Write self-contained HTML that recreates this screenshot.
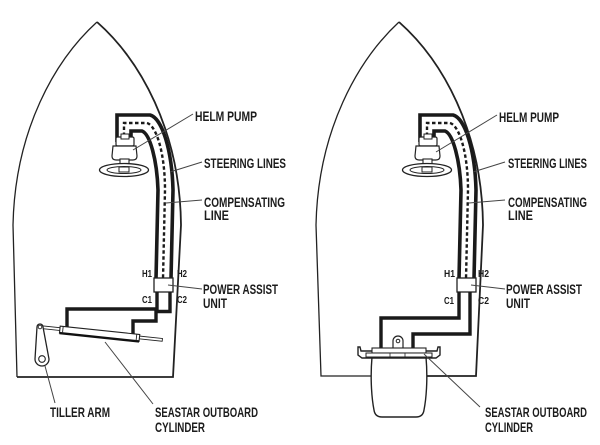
<!DOCTYPE html>
<html><head><meta charset="utf-8"><style>
html,body{margin:0;padding:0;background:#fff;}
svg{display:block;}
text{font-family:"Liberation Sans",Arial,sans-serif;font-weight:bold;fill:#1c1c1c;}
</style></head><body>
<svg width="600" height="445" viewBox="0 0 600 445" xmlns="http://www.w3.org/2000/svg">
<rect width="600" height="445" fill="#fff"/>

<!-- LEFT HULL -->
<path d="M17,377 L13,225 C15,130 55,60 97,22" fill="none" stroke="#222" stroke-width="1.3"/>
<path d="M97,22 C140,60 180,130 181,225 L173,377 L17,377" fill="none" stroke="#222" stroke-width="1.8"/>

<!-- RIGHT HULL -->
<path d="M372,376 H321 L316,225 C318,130 358,60 399,22" fill="none" stroke="#222" stroke-width="1.3"/>
<path d="M399,22 C442,60 482,130 483,225 L476,376 H425" fill="none" stroke="#222" stroke-width="1.8"/>

<!-- STEERING LINES (shared, left then shifted) -->
<g id="lines" fill="none">
  <path d="M117,142 V115 H150 C162,118 172,150 173,190 L171,279" stroke="#1a1a1a" stroke-width="3.6"/>
  <path d="M124,142 V123 H147 C157,126 165,155 165,190 L163,279" stroke="#1a1a1a" stroke-width="2.4" stroke-dasharray="3.5 2.5"/>
  <path d="M131,142 V131 H142 C150,134 157,160 158,190 L156,279" stroke="#1a1a1a" stroke-width="3.6"/>
  <!-- power assist unit -->
  <rect x="154" y="278" width="19" height="14" fill="#fff" stroke="#222" stroke-width="1.3"/>
  <!-- helm pump -->
  <rect x="116" y="137" width="18" height="9" rx="1.5" fill="#fff" stroke="#222" stroke-width="1.2"/>
  <rect x="121" y="134" width="8" height="5" fill="#fff" stroke="#222" stroke-width="1"/>
  <path d="M113,146 H136 L137,156 Q137,160 133,160 H116 Q112,160 112,156 Z" fill="#fff" stroke="#222" stroke-width="1.2"/>
  <rect x="120" y="159" width="9" height="7" fill="#fff" stroke="#222" stroke-width="1.1"/>
  <ellipse cx="124" cy="170" rx="24.5" ry="6.5" fill="#fff" stroke="#222" stroke-width="1.3"/>
  <ellipse cx="124" cy="170" rx="17" ry="3.5" fill="none" stroke="#222" stroke-width="1"/>
  <rect x="119" y="167" width="10" height="5" fill="#fff" stroke="#222" stroke-width="1"/>
</g>
<use href="#lines" transform="translate(303,0)"/>

<!-- LEFT: hoses to cylinder -->
<g fill="none" stroke="#1a1a1a" stroke-width="3.4">
  <path d="M157,292 V309 H67 V327"/>
  <path d="M170,292 V311.5 H156 V321 H133 V334"/>
</g>
<!-- cylinder + rod -->
<g transform="rotate(6 40 327)">
  <rect x="40" y="325.6" width="123" height="2.8" fill="#fff" stroke="#222" stroke-width="0.9"/>
  <rect x="60" y="324" width="80" height="7" fill="#fff" stroke="#222" stroke-width="1.1"/>
  <line x1="60" y1="331" x2="140" y2="331" stroke="#111" stroke-width="2.4"/>
  <line x1="63" y1="324" x2="63" y2="331" stroke="#222" stroke-width="0.9"/>
  <line x1="137" y1="324" x2="137" y2="331" stroke="#222" stroke-width="0.9"/>
</g>
<!-- tiller arm -->
<path d="M37,327 L35,359 A7,7 0 0 0 49,359 L43,327 A3,3 0 0 0 37,327 Z" fill="#fff" stroke="#222" stroke-width="1.3"/>
<circle cx="42" cy="359" r="3.3" fill="#fff" stroke="#222" stroke-width="1.1"/>
<circle cx="40" cy="327" r="1.8" fill="#fff" stroke="#222" stroke-width="0.9"/>

<!-- RIGHT: hoses to outboard -->
<g fill="none" stroke="#1a1a1a" stroke-width="3.4">
  <path d="M459,292 V318 H381 V349"/>
  <path d="M470,292 V334 H413 V349"/>
</g>
<!-- outboard -->
<path d="M372,357 C370,380 372,400 374,410 Q375,417 382,417 H416 Q423,417 424,410 C426,400 428,380 426,357 Z" fill="#fff" stroke="#222" stroke-width="1.4"/>
<path d="M393,349 V341 A5,5 0 0 1 403,341 V349" fill="#fff" stroke="#222" stroke-width="1.2"/>
<circle cx="398" cy="341" r="1.8" fill="none" stroke="#222" stroke-width="1"/>
<path d="M358,347 L360,347 L361,351 H437 L438,347 L440,347 L440,355 L436,358 H362 L358,355 Z" fill="#fff" stroke="#222" stroke-width="1.4"/>
<rect x="372" y="348" width="54" height="5" fill="#fff" stroke="#222" stroke-width="1.1"/>
<rect x="366" y="353" width="66" height="4" fill="#fff" stroke="#222" stroke-width="1"/>
<line x1="390" y1="353" x2="390" y2="357" stroke="#222" stroke-width="0.8"/>
<line x1="405" y1="353" x2="405" y2="357" stroke="#222" stroke-width="0.8"/>

<!-- LEADER LINES -->
<g stroke="#444" stroke-width="1" fill="none">
  <line x1="193" y1="114" x2="133" y2="150"/>
  <line x1="202" y1="162" x2="170" y2="172"/>
  <line x1="202" y1="200" x2="166" y2="203"/>
  <line x1="202" y1="289" x2="168" y2="285"/>
  <line x1="45" y1="366" x2="55" y2="403"/>
  <line x1="105" y1="342" x2="153" y2="404"/>

  <line x1="497" y1="115" x2="436" y2="152"/>
  <line x1="505" y1="162" x2="473" y2="172"/>
  <line x1="505" y1="200" x2="469" y2="203"/>
  <line x1="505" y1="289" x2="471" y2="285"/>
  <line x1="424" y1="354" x2="480" y2="407"/>
</g>

<!-- LABELS LEFT -->
<g font-size="14">
  <text x="195" y="121" textLength="62" lengthAdjust="spacingAndGlyphs">HELM PUMP</text>
  <text x="204" y="168" textLength="82" lengthAdjust="spacingAndGlyphs">STEERING LINES</text>
  <text x="204" y="207" textLength="81" lengthAdjust="spacingAndGlyphs">COMPENSATING</text>
  <text x="204" y="220" textLength="25" lengthAdjust="spacingAndGlyphs">LINE</text>
  <text x="203" y="294" textLength="75" lengthAdjust="spacingAndGlyphs">POWER ASSIST</text>
  <text x="203" y="308" textLength="24" lengthAdjust="spacingAndGlyphs">UNIT</text>
  <text x="50" y="417" textLength="60" lengthAdjust="spacingAndGlyphs">TILLER ARM</text>
  <text x="155" y="417" textLength="103" lengthAdjust="spacingAndGlyphs">SEASTAR OUTBOARD</text>
  <text x="155" y="432" textLength="50" lengthAdjust="spacingAndGlyphs">CYLINDER</text>
</g>
<g font-size="10.5">
  <text x="142" y="277" textLength="10" lengthAdjust="spacingAndGlyphs">H1</text>
  <text x="177" y="277" textLength="10" lengthAdjust="spacingAndGlyphs">H2</text>
  <text x="142" y="303" textLength="10" lengthAdjust="spacingAndGlyphs">C1</text>
  <text x="177" y="303" textLength="10" lengthAdjust="spacingAndGlyphs">C2</text>
</g>

<!-- LABELS RIGHT -->
<g font-size="14">
  <text x="499" y="122" textLength="60" lengthAdjust="spacingAndGlyphs">HELM PUMP</text>
  <text x="508" y="168" textLength="79" lengthAdjust="spacingAndGlyphs">STEERING LINES</text>
  <text x="508" y="207" textLength="79" lengthAdjust="spacingAndGlyphs">COMPENSATING</text>
  <text x="508" y="220" textLength="25" lengthAdjust="spacingAndGlyphs">LINE</text>
  <text x="506" y="294" textLength="76" lengthAdjust="spacingAndGlyphs">POWER ASSIST</text>
  <text x="506" y="308" textLength="24" lengthAdjust="spacingAndGlyphs">UNIT</text>
  <text x="485" y="417" textLength="102" lengthAdjust="spacingAndGlyphs">SEASTAR OUTBOARD</text>
  <text x="485" y="432" textLength="48" lengthAdjust="spacingAndGlyphs">CYLINDER</text>
</g>
<g font-size="10.5">
  <text x="444" y="277" textLength="11" lengthAdjust="spacingAndGlyphs">H1</text>
  <text x="478" y="277" textLength="11" lengthAdjust="spacingAndGlyphs">H2</text>
  <text x="444" y="304" textLength="10" lengthAdjust="spacingAndGlyphs">C1</text>
  <text x="478" y="304" textLength="11" lengthAdjust="spacingAndGlyphs">C2</text>
</g>
</svg>
</body></html>
